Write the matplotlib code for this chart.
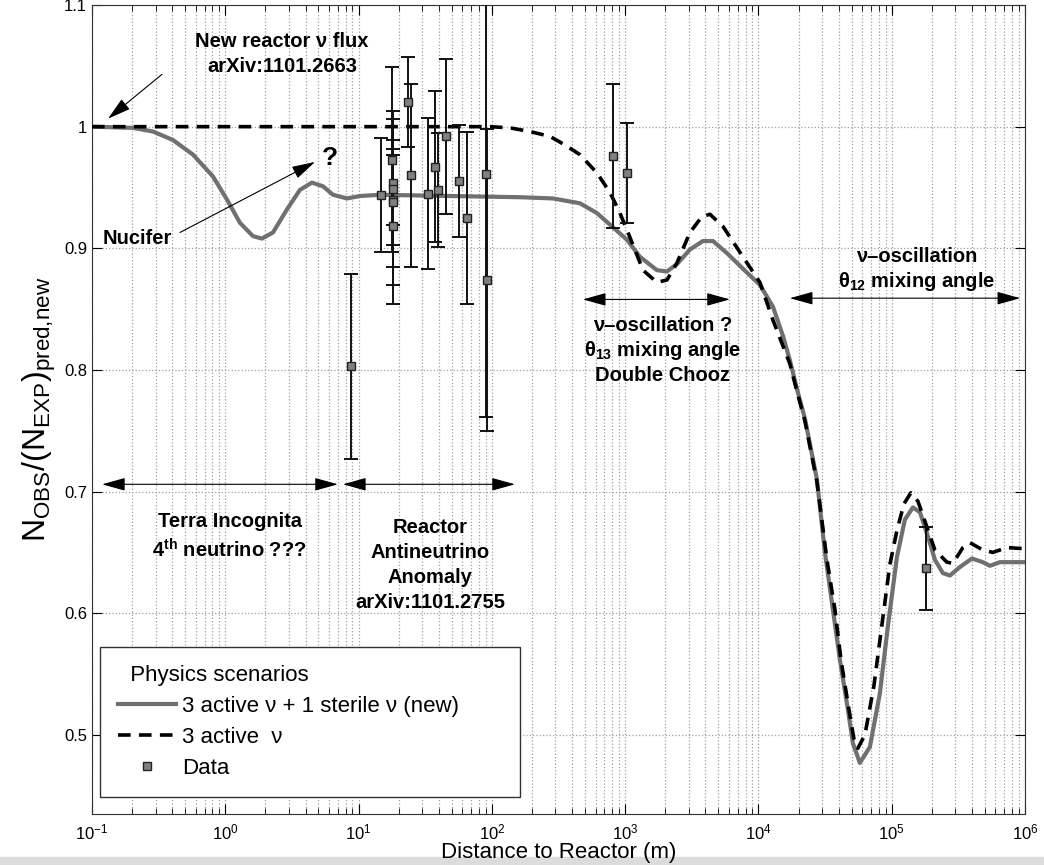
import numpy as np
import matplotlib.pyplot as plt
from matplotlib.patches import Rectangle
from matplotlib.ticker import LogLocator, FixedLocator, LogFormatterSciNotation

plt.rcParams['font.family'] = ['Liberation Sans', 'DejaVu Sans']
plt.rcParams['mathtext.fontset'] = 'custom'
plt.rcParams['mathtext.rm'] = 'Liberation Sans'
plt.rcParams['mathtext.it'] = 'Liberation Sans:italic'
plt.rcParams['mathtext.bf'] = 'Liberation Sans:bold'

# 3 active + 1 sterile (solid, grey) -- log10(distance/m), ratio
sterile_logd = [-1.0, -0.692, -0.542, -0.392, -0.242, -0.092, 0.013, 0.110, 0.208, 0.275,
                0.358, 0.463, 0.560, 0.650, 0.733, 0.808, 0.913, 1.011, 1.161, 1.686,
                2.211, 2.458, 2.661, 2.788, 2.901, 3.014, 3.111, 3.239, 3.314, 3.389,
                3.486, 3.584, 3.659, 3.764, 3.914, 4.011, 4.109, 4.184, 4.236, 4.290,
                4.349, 4.439, 4.499, 4.559, 4.611, 4.671, 4.709, 4.761, 4.836, 4.911,
                4.971, 5.039, 5.099, 5.159, 5.212, 5.272, 5.324, 5.384, 5.437, 5.512,
                5.602, 5.684, 5.737, 5.812, 6.0]
sterile_ratio = [1.000, 0.999, 0.996, 0.989, 0.977, 0.959, 0.940, 0.921, 0.910, 0.908,
                 0.913, 0.932, 0.948, 0.954, 0.951, 0.944, 0.941, 0.943, 0.944, 0.943,
                 0.942, 0.941, 0.937, 0.929, 0.918, 0.907, 0.893, 0.882, 0.881, 0.887,
                 0.899, 0.906, 0.906, 0.896, 0.880, 0.870, 0.852, 0.828, 0.808, 0.784,
                 0.760, 0.710, 0.650, 0.603, 0.562, 0.521, 0.493, 0.477, 0.490, 0.534,
                 0.589, 0.646, 0.677, 0.687, 0.683, 0.663, 0.644, 0.633, 0.631, 0.638,
                 0.645, 0.642, 0.639, 0.642, 0.642]

# 3 active (dashed, black)
active_logd = [-1.0, 1.986, 2.136, 2.286, 2.436, 2.548, 2.661, 2.788, 2.886, 2.961,
               3.036, 3.134, 3.239, 3.314, 3.389, 3.486, 3.576, 3.636, 3.734, 3.884,
               4.011, 4.109, 4.236, 4.290, 4.349, 4.439, 4.514, 4.574, 4.619, 4.679,
               4.716, 4.746, 4.799, 4.866, 4.926, 4.986, 5.039, 5.092, 5.144, 5.197,
               5.264, 5.324, 5.414, 5.459, 5.534, 5.587, 5.684, 5.759, 5.864, 6.0]
active_ratio = [1.000, 1.000, 0.999, 0.996, 0.992, 0.985, 0.977, 0.962, 0.946, 0.929,
                0.909, 0.882, 0.872, 0.874, 0.888, 0.913, 0.926, 0.928, 0.918, 0.893,
                0.872, 0.841, 0.805, 0.782, 0.758, 0.708, 0.644, 0.603, 0.562, 0.521,
                0.497, 0.489, 0.500, 0.540, 0.590, 0.640, 0.668, 0.690, 0.699, 0.692,
                0.671, 0.652, 0.642, 0.641, 0.654, 0.658, 0.652, 0.650, 0.654, 0.653]

# reactor experiments
data_dist = [8.77, 14.7, 17.7, 18.0, 18.0, 18.0, 18.0, 18.0, 23.6, 24.7, 33.0, 37.4,
             39.6, 45.3, 56.6, 64.7, 90.3, 91.4, 805, 1038, 1.8e5]
data_ratio = [0.803, 0.944, 0.973, 0.954, 0.949, 0.940, 0.938, 0.918, 1.020, 0.960,
              0.945, 0.967, 0.948, 0.992, 0.955, 0.925, 0.961, 0.874, 0.976, 0.962, 0.637]
data_err = [0.076, 0.047, 0.076, 0.035, 0.064, 0.037, 0.068, 0.064, 0.037, 0.075,
            0.062, 0.062, 0.047, 0.064, 0.046, 0.071, 0.200, 0.124, 0.059, 0.041, 0.034]

x_ticks = [1e-1, 1e0, 1e1, 1e2, 1e3, 1e4, 1e5, 1e6]
y_ticks = [0.5, 0.6, 0.7, 0.8, 0.9, 1.0, 1.1]
y_ticklabels = ['0.5', '0.6', '0.7', '0.8', '0.9', '1', '1.1']

fig = plt.figure(figsize=(10.44, 8.65), dpi=100)
ax = fig.add_axes([0.0881, 0.0590, 0.8937, 0.9352])

ax.plot(10 ** np.array(sterile_logd), sterile_ratio, color='#707070', lw=3,
        label='3 active ν + 1 sterile ν (new)', zorder=3)
ax.plot(10 ** np.array(active_logd), active_ratio, color='k', lw=2.6, ls=(0, (3.5, 2.3)),
        label='3 active  ν', zorder=4)
ax.errorbar(data_dist, data_ratio, yerr=data_err, fmt='none', ecolor='#111111',
            elinewidth=1.4, capsize=5, capthick=1.4, zorder=5)
ax.plot(data_dist, data_ratio, ls='none', marker='s', ms=5.5, mfc='#808080', mec='#222222',
        mew=1, label='Data', zorder=6)

ax.set_xscale('log')
ax.set_xlim(0.1, 1e6)
ax.set_ylim(0.435, 1.1)
ax.yaxis.set_major_locator(FixedLocator(y_ticks))
ax.set_yticklabels(y_ticklabels)
ax.xaxis.set_major_locator(FixedLocator(x_ticks))
ax.xaxis.set_major_formatter(LogFormatterSciNotation())
ax.xaxis.set_minor_locator(LogLocator(base=10, subs=np.arange(2, 10), numticks=20))
ax.tick_params(which='both', direction='in', top=True, right=True, labelsize=12)
ax.tick_params(which='major', length=7)
ax.tick_params(which='minor', length=4)
ax.tick_params(axis='x', which='major', pad=6)
ax.grid(True, which='major', ls=':', color='#a0a0a0', lw=0.9)
ax.grid(True, which='minor', axis='x', ls=':', color='#a0a0a0', lw=0.9)
for s in ax.spines.values():
    s.set_color('#333333')

ax.set_xlabel('Distance to Reactor (m)', fontsize=16, labelpad=0)
ax.set_ylabel(r'N$_{\mathrm{OBS}}$/(N$_{\mathrm{EXP}}$)$_{\mathrm{pred{,}new}}$', fontsize=23,
              labelpad=4)

bold = dict(fontweight='bold', fontsize=14.5, ha='center', va='center', zorder=7)
ax.text(2.66, 1.060, 'New reactor ν flux\narXiv:1101.2663', linespacing=1.4, **bold)
ax.text(6.1, 0.974, '?', fontweight='bold', fontsize=19, ha='center', va='center')
ax.text(0.121, 0.908, 'Nucifer', fontweight='bold', fontsize=14.5, ha='left', va='center')
ax.text(1.08, 0.663, 'Terra Incognita\n4$^{\\mathbf{th}}$ neutrino ???', linespacing=1.4, **bold)
ax.text(34.4, 0.640, 'Reactor\nAntineutrino\nAnomaly\narXiv:1101.2755', linespacing=1.4, **bold)
ax.text(1918, 0.816, 'ν–oscillation ?\nθ$_{\\mathbf{13}}$ mixing angle\nDouble Chooz',
        linespacing=1.25, **bold)
ax.text(1.55e5, 0.882, 'ν–oscillation\nθ$_{\\mathbf{12}}$ mixing angle', linespacing=1.25, **bold)

one_way = dict(arrowstyle='-|>,head_length=0.9,head_width=0.25', color='k', lw=0.8,
               mutation_scale=16, shrinkA=0, shrinkB=0)
ax.annotate('', xy=(0.132, 1.0066), xytext=(0.335, 1.043), arrowprops=one_way)
ax.annotate('', xy=(4.71, 0.971), xytext=(0.457, 0.913), arrowprops=one_way)

two_way = dict(arrowstyle='<|-|>,head_length=0.9,head_width=0.25', color='k', lw=0.8,
               mutation_scale=16, shrinkA=0, shrinkB=0)
ax.annotate('', xy=(0.119, 0.706), xytext=(7.0, 0.706), arrowprops=two_way)
ax.annotate('', xy=(7.64, 0.706), xytext=(149, 0.706), arrowprops=two_way)
ax.annotate('', xy=(482, 0.858), xytext=(6110, 0.858), arrowprops=two_way)
ax.annotate('', xy=(17200, 0.859), xytext=(9.2e5, 0.859), arrowprops=two_way)

leg = ax.legend(loc='lower left', bbox_to_anchor=(0.0086, 0.021, 0.45, 0.184), mode='expand',
                borderaxespad=0, title='  Physics scenarios', alignment='left', fontsize=16,
                title_fontsize=16, fancybox=False, edgecolor='#333333', framealpha=1,
                handlelength=2.6, borderpad=0.8, labelspacing=0.45, handletextpad=0.3)
leg.get_frame().set_linewidth(1.0)
leg.set_zorder(10)

fig.add_artist(Rectangle((0, 0), 1, 8 / 865, transform=fig.transFigure,
                         color='#dcdcdc', zorder=0))

fig.savefig('out.png', dpi=100)
